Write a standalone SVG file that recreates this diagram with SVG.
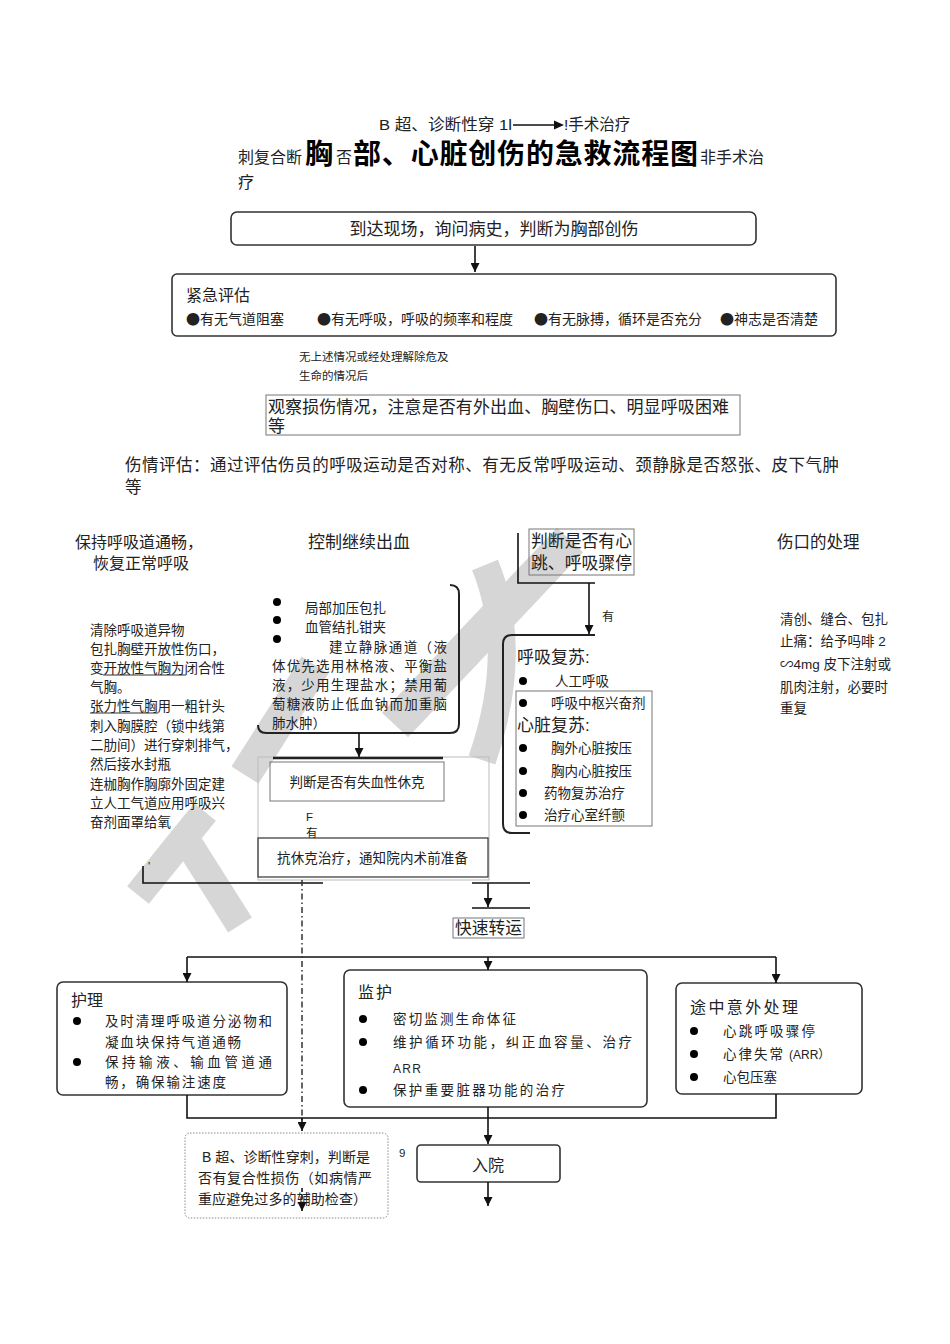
<svg xmlns="http://www.w3.org/2000/svg" width="950" height="1344" viewBox="0 0 950 1344">
<defs>
<marker id="ah" viewBox="0 0 10 10" refX="10" refY="5" markerWidth="9" markerHeight="9" markerUnits="userSpaceOnUse" orient="auto"><path d="M0,0 L10,5 L0,10 z" fill="#111"/></marker>
</defs>
<style>
text{font-family:'Liberation Sans','Noto Sans CJK SC',sans-serif;fill:#222}
.cjk{font-family:'Noto Sans CJK SC',sans-serif}
.s11{font-size:11.5px}
.s12{font-size:12px}
.s13{font-size:13.5px}
.s14{font-size:14px}
.s16{font-size:16px}
.s17{font-size:17px}
.b{font-weight:bold;font-size:28px;fill:#000}
.box{fill:none;stroke:#333;stroke-width:1.6}
.gbox{fill:none;stroke:#777;stroke-width:1}
.lbox{fill:none;stroke:#bbb;stroke-width:1}
.ln{fill:none;stroke:#111;stroke-width:1.6}
.thk{fill:none;stroke:#222;stroke-width:2.4}
.wm{fill:none;stroke:#d6d6d6}
.dot{fill:#000}
</style>
<rect width="950" height="1344" fill="#fff"/>

<g id="watermark">
<path class="wm" stroke-width="36" d="M395 725 L570 540"/>
<path class="wm" stroke-width="28" d="M485 565 Q520 650 482 760"/>
<path class="wm" stroke-width="32" d="M245 775 L315 665"/>
<path class="wm" stroke-width="28" d="M138 895 L205 812"/>
<path class="wm" stroke-width="28" d="M185 838 L240 925"/>
</g>

<g id="title">
<text x="379" y="130" textLength="133" lengthAdjust="spacingAndGlyphs" style="font-size:15.5px">B 超、诊断性穿 1l</text>
<line x1="513" y1="125" x2="556" y2="125" stroke="#111" stroke-width="1.5"/>
<polygon points="554,120.5 564,125 554,129.5" fill="#111"/>
<text x="564" y="130" style="font-size:15.5px">!手术治疗</text>
<text class="s16" x="238" y="163">刺复合断</text>
<text class="b" x="305" y="164">胸</text>
<text class="s16" x="336" y="163">否</text>
<text class="b" x="353" y="164" textLength="345" lengthAdjust="spacing">部、心脏创伤的急救流程图</text>
<text class="s16" x="700" y="163">非手术治</text>
<text class="s16" x="238" y="188">疗</text>
</g>

<g id="n-arrive">
<rect class="box" x="231" y="212" width="525" height="33" rx="6"/>
<text class="s17" x="494" y="235" text-anchor="middle">到达现场，询问病史，判断为胸部创伤</text>
</g>

<g id="n-emergency">
<rect class="box" x="172" y="274" width="664" height="62" rx="5"/>
<text class="s16" x="186" y="301">紧急评估</text>
<text class="s14 cjk" x="186" y="324">●有无气道阻塞</text>
<text class="s14 cjk" x="317" y="324">●有无呼吸，呼吸的频率和程度</text>
<text class="s14 cjk" x="534" y="324">●有无脉搏，循环是否充分</text>
<text class="s14 cjk" x="720" y="324">●神志是否清楚</text>
</g>

<g id="n-note1">
<text class="s11" x="299" y="361">无上述情况或经处理解除危及</text>
<text class="s11" x="299" y="380">生命的情况后</text>
</g>

<g id="n-observe">
<rect class="gbox" x="266" y="395" width="474" height="40"/>
<text class="s17" x="268" y="413" textLength="461" lengthAdjust="spacing">观察损伤情况，注意是否有外出血、胸壁伤口、明显呼吸困难</text>
<text class="s17" x="268" y="432">等</text>
</g>

<g id="n-assess">
<text x="125" y="471" style="font-size:16.5px" textLength="714" lengthAdjust="spacing">伤情评估：通过评估伤员的呼吸运动是否对称、有无反常呼吸运动、颈静脉是否怒张、皮下气肿</text>
<text x="125" y="493" style="font-size:16.5px">等</text>
</g>

<g id="n-airway">
<text class="s16" x="75" y="548">保持呼吸道通畅，</text>
<text class="s16" x="93" y="569">恢复正常呼吸</text>
<text class="s13" x="90" y="635">清除呼吸道异物</text>
<text class="s13" x="90" y="654">包扎胸壁开放性伤口，</text>
<text class="s13" x="90" y="673">变开放性气胸为闭合性</text>
<line x1="103" y1="675" x2="186" y2="675" stroke="#333" stroke-width="1"/>
<text class="s13" x="90" y="692">气胸。</text>
<text class="s13" x="90" y="711">张力性气胸用一粗针头</text>
<line x1="90" y1="713" x2="158" y2="713" stroke="#333" stroke-width="1"/>
<text class="s13" x="90" y="731">刺入胸膜腔（锁中线第</text>
<text class="s13" x="90" y="750">二肋间）进行穿刺排气，</text>
<text class="s13" x="90" y="769">然后接水封瓶</text>
<text class="s13" x="90" y="789">连枷胸作胸廓外固定建</text>
<text class="s13" x="90" y="808">立人工气道应用呼吸兴</text>
<text class="s13" x="90" y="827">奋剂面罩给氧</text>
</g>

<g id="n-bleeding">
<text class="s17" x="308" y="548">控制继续出血</text>
<path class="thk" d="M450 585 Q459 585 459 594 L459 724 Q459 733 450 733 L266 733 Q258 733 258 725" style="stroke-width:2"/>
<circle class="dot" cx="277" cy="602" r="4"/>
<circle class="dot" cx="277" cy="620" r="4"/>
<circle class="dot" cx="277" cy="639" r="4"/>
<text class="s13" x="305" y="613">局部加压包扎</text>
<text class="s13" x="305" y="632">血管结扎钳夹</text>
<text class="s13" x="329" y="652" textLength="118" lengthAdjust="spacing">建立静脉通道（液</text>
<text class="s13" x="272" y="671" textLength="175" lengthAdjust="spacing">体优先选用林格液、平衡盐</text>
<text class="s13" x="272" y="690" textLength="175" lengthAdjust="spacing">液，少用生理盐水；禁用葡</text>
<text class="s13" x="272" y="709" textLength="175" lengthAdjust="spacing">萄糖液防止低血钠而加重脑</text>
<text class="s13" x="272" y="728">肺水肿）</text>
</g>

<g id="n-heart-judge">
<rect class="gbox" x="529" y="529" width="105" height="46"/>
<text class="s17" x="531" y="547" textLength="101" lengthAdjust="spacingAndGlyphs">判断是否有心</text>
<text class="s17" x="531" y="569" textLength="101" lengthAdjust="spacingAndGlyphs">跳、呼吸骤停</text>
</g>

<g id="n-resus">
<path class="thk" d="M595 635 L512 635 Q503 635 503 644 L503 824 Q503 833 512 833 L530 833" style="stroke-width:2"/>
<rect class="gbox" x="516" y="691" width="136" height="135"/>
<text class="s17" x="517" y="663">呼吸复苏:</text>
<circle class="dot" cx="523" cy="681" r="4"/>
<text class="s13" x="555" y="686">人工呼吸</text>
<circle class="dot" cx="523" cy="703" r="4"/>
<text class="s13" x="551" y="708">呼吸中枢兴奋剂</text>
<text class="s17" x="517" y="731">心脏复苏:</text>
<circle class="dot" cx="523" cy="748" r="4"/>
<text class="s13" x="551" y="753">胸外心脏按压</text>
<circle class="dot" cx="523" cy="771" r="4"/>
<text class="s13" x="551" y="776">胸内心脏按压</text>
<circle class="dot" cx="523" cy="793" r="4"/>
<text class="s13" x="544" y="798">药物复苏治疗</text>
<circle class="dot" cx="523" cy="815" r="4"/>
<text class="s13" x="544" y="820">治疗心室纤颤</text>
</g>

<g id="n-wound">
<text x="777" y="548" style="font-size:16.5px">伤口的处理</text>
<text class="s13" x="780" y="624">清创、缝合、包扎</text>
<text class="s13" x="780" y="646">止痛：给予吗啡 2</text>
<text class="s13" x="780" y="669">∽4mg 皮下注射或</text>
<text class="s13" x="780" y="692">肌肉注射，必要时</text>
<text class="s13" x="780" y="713">重复</text>
</g>

<g id="n-shock">
<rect class="lbox" x="258" y="757" width="231" height="123"/>
<rect class="gbox" x="270" y="762" width="174" height="39"/>
<text class="s13" x="357" y="787" text-anchor="middle">判断是否有失血性休克</text>
<text class="s11" x="306" y="821">F</text>
<text class="s11" x="306" y="837">有</text>
<rect class="box" x="258" y="838" width="230" height="39" style="stroke-width:1.2"/>
<text class="s13" x="277" y="863" textLength="191" lengthAdjust="spacing">抗休克治疗，通知院内术前准备</text>
</g>

<g id="n-transport">
<rect class="gbox" x="453" y="918" width="71" height="20"/>
<text class="s17" x="455" y="934" textLength="67" lengthAdjust="spacingAndGlyphs">快速转运</text>
</g>

<g id="n-care">
<rect class="box" x="57" y="982" width="230" height="113" rx="6"/>
<text class="s16" x="71" y="1006">护理</text>
<circle class="dot" cx="77" cy="1021" r="4"/>
<text class="s13" x="105" y="1026" textLength="167" lengthAdjust="spacing">及时清理呼吸道分泌物和</text>
<text class="s13" x="105" y="1047" textLength="136" lengthAdjust="spacing">凝血块保持气道通畅</text>
<circle class="dot" cx="77" cy="1062" r="4"/>
<text class="s13" x="105" y="1067" textLength="167" lengthAdjust="spacing">保持输液、输血管道通</text>
<text class="s13" x="105" y="1087" textLength="121" lengthAdjust="spacing">畅，确保输注速度</text>
</g>

<g id="n-monitor">
<rect class="box" x="344" y="970" width="303" height="137" rx="6"/>
<text class="s16" x="358" y="998" textLength="34" lengthAdjust="spacing">监护</text>
<circle class="dot" cx="363" cy="1019" r="4"/>
<text class="s13" x="393" y="1024" textLength="123" lengthAdjust="spacing">密切监测生命体征</text>
<circle class="dot" cx="363" cy="1042" r="4"/>
<text class="s13" x="393" y="1047" textLength="239" lengthAdjust="spacing">维护循环功能，纠正血容量、治疗</text>
<text class="s12" x="393" y="1073" textLength="28" lengthAdjust="spacing">ARR</text>
<circle class="dot" cx="363" cy="1090" r="4"/>
<text class="s13" x="393" y="1095" textLength="172" lengthAdjust="spacing">保护重要脏器功能的治疗</text>
</g>

<g id="n-accident">
<rect class="box" x="676" y="983" width="186" height="111" rx="6"/>
<text class="s16" x="690" y="1013" textLength="108" lengthAdjust="spacing">途中意外处理</text>
<circle class="dot" cx="694" cy="1031" r="4"/>
<text class="s13" x="723" y="1036" textLength="92" lengthAdjust="spacing">心跳呼吸骤停</text>
<circle class="dot" cx="694" cy="1054" r="4"/>
<text class="s13" x="723" y="1059" textLength="60" lengthAdjust="spacing">心律失常</text>
<text class="s12" x="789" y="1059">(ARR）</text>
<circle class="dot" cx="694" cy="1077" r="4"/>
<text class="s13" x="723" y="1082">心包压塞</text>
</g>

<g id="n-admit">
<rect class="box" x="417" y="1145" width="143" height="37" rx="4"/>
<text class="s16" x="488" y="1171" text-anchor="middle">入院</text>
<text class="s11" x="399" y="1157">9</text>
</g>

<g id="n-bscan">
<rect x="185" y="1133" width="203" height="85" rx="5" fill="none" stroke="#888" stroke-width="1" stroke-dasharray="1.5 1.5"/>
<text class="s14" x="202" y="1162" textLength="168" lengthAdjust="spacing">B 超、诊断性穿刺，判断是</text>
<text class="s14" x="198" y="1183" textLength="174" lengthAdjust="spacing">否有复合性损伤（如病情严</text>
<text class="s14" x="198" y="1204" textLength="169" lengthAdjust="spacing">重应避免过多的辅助检查）</text>
</g>

<g id="connectors">
<line class="ln" x1="475" y1="246" x2="475" y2="272" marker-end="url(#ah)"/>
<polyline class="ln" points="518,533 518,583 595,583"/>
<line class="ln" x1="589" y1="583" x2="589" y2="634" marker-end="url(#ah)"/>
<text class="s12" x="602" y="621">有</text>
<line class="ln" x1="359" y1="733" x2="359" y2="757" marker-end="url(#ah)"/>
<line class="thk" x1="273" y1="758" x2="443" y2="758"/>
<polyline class="ln" points="143,866 143,883 323,883"/>
<text class="s11" x="148" y="870">'</text>
<line class="ln" x1="472" y1="883" x2="530" y2="883"/>
<line class="ln" x1="488" y1="883" x2="488" y2="907" marker-end="url(#ah)"/>
<line class="ln" x1="472" y1="908" x2="530" y2="908"/>
<line class="ln" x1="187" y1="957" x2="776" y2="957"/>
<line class="ln" x1="187" y1="957" x2="187" y2="982" marker-end="url(#ah)"/>
<line class="ln" x1="488" y1="957" x2="488" y2="970" marker-end="url(#ah)"/>
<line class="ln" x1="776" y1="957" x2="776" y2="983" marker-end="url(#ah)"/>
<line x1="302" y1="880" x2="302" y2="1122" stroke="#333" stroke-width="1.5" stroke-dasharray="6 3 1.5 3"/>
<line class="ln" x1="302" y1="1118" x2="302" y2="1131" marker-end="url(#ah)"/>
<line class="ln" x1="302" y1="1188" x2="302" y2="1211" marker-end="url(#ah)" stroke-dasharray="4 3"/>
<polyline class="ln" points="187,1095 187,1118 776,1118 776,1094"/>
<line class="ln" x1="488" y1="1107" x2="488" y2="1144" marker-end="url(#ah)"/>
<line class="ln" x1="488" y1="1182" x2="488" y2="1206" marker-end="url(#ah)"/>
</g>
</svg>
